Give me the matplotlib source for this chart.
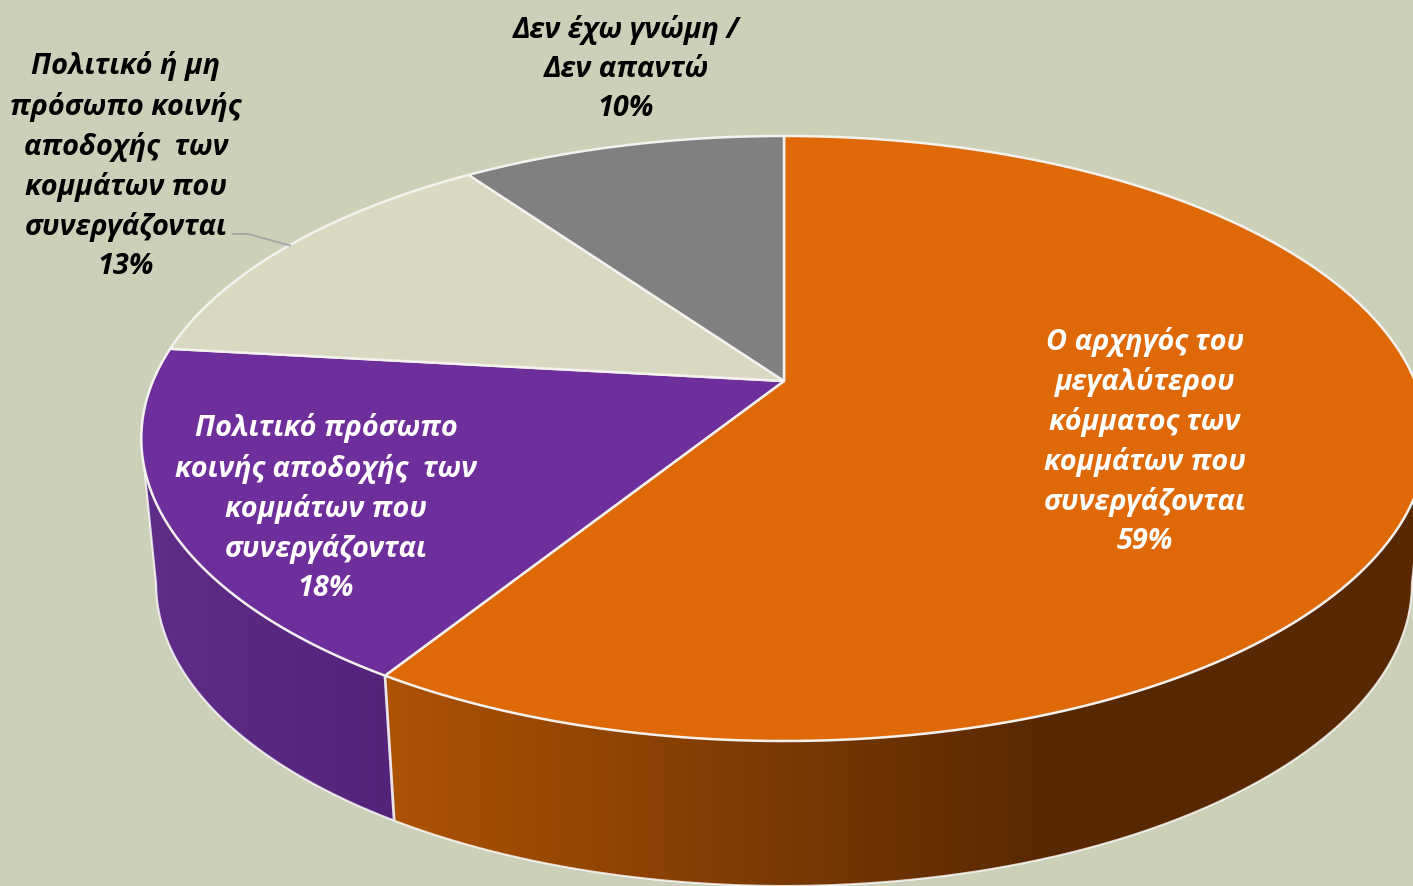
import numpy as np
import matplotlib
matplotlib.use("Agg")
import matplotlib.pyplot as plt
from matplotlib.colors import to_rgb
from matplotlib.patches import Polygon

# Data
labels = [
    "Ο αρχηγός του\nμεγαλύτερου\nκόμματος των\nκομμάτων που\nσυνεργάζονται\n59%",
    "Πολιτικό πρόσωπο\nκοινής αποδοχής  των\nκομμάτων που\nσυνεργάζονται\n18%",
    "Πολιτικό ή μη\nπρόσωπο κοινής\nαποδοχής  των\nκομμάτων που\nσυνεργάζονται\n13%",
    "Δεν έχω γνώμη /\nΔεν απαντώ\n10%",
]
values = [58.9, 17.9, 13.4, 9.8]
top_colors = ["#e06907", "#6e2e9b", "#d9d8c2", "#808080"]
label_colors = ["white", "white", "black", "black"]
label_pos = [(1145, 441.5), (326, 508), (126, 166), (626, 69)]

BG = "#ccd0b9"

# Perspective of the pie, in pixels
CX, CY = 784, 382
K = 0.19
A = 291.6
B = 631
DEPTH = 145
SHRINK = 0.977


def rim(theta):
    # theta is clockwise from the top of the pie
    u, w = np.sin(theta), -np.cos(theta)
    d = 1 - K * w
    return CX + B * u / d, CY + A * w / d


def lower(x, y):
    return CX + (x - CX) * SHRINK, y + DEPTH


def wall(t0, t1, left, right, x0, x1):
    # one part of the side wall, a horizontal gradient clipped to its outline
    ths = np.linspace(t0, t1, 300)
    tx, ty = rim(ths)
    bx, by = lower(tx, ty)
    xs = np.arange(0, 1414)
    t = np.clip((xs - x0) / (x1 - x0), 0, 1)[None, :, None]
    img = (1 - t) * np.array(to_rgb(left)) + t * np.array(to_rgb(right))
    im = ax.imshow(img, extent=(0, 1413, 887, 0), aspect="auto", interpolation="bilinear", zorder=1)
    outline = Polygon(np.c_[np.r_[tx, bx[::-1]], np.r_[ty, by[::-1]]], transform=ax.transData)
    im.set_clip_path(outline)


fig = plt.figure(figsize=(14.13, 8.87), dpi=100, facecolor=BG)
ax = fig.add_axes([0, 0, 1, 1])

edges = np.cumsum([0] + values) / sum(values) * 2 * np.pi
seam = edges[1]

# The wall runs between the two points where the rim is widest
grid = np.linspace(0, 2 * np.pi, 3601)
gx = rim(grid)[0]
th_right, th_left = grid[np.argmax(gx)], grid[np.argmin(gx)]

wall(th_right, seam, "#ae5304", "#582802", 385, 1050)
wall(seam, th_left, "#602d88", "#53237a", 145, 393)

ax.set_xlim(0, 1413)
ax.set_ylim(887, 0)
ax.axis("off")

# White line under the wall and down the seam
ths = np.linspace(th_right, th_left, 500)
tx, ty = rim(ths)
bx, by = lower(tx, ty)
ax.plot(np.r_[tx[0], bx, tx[-1]], np.r_[ty[0], by, ty[-1]], color="white", lw=1.5, alpha=0.8, zorder=2)
sx, sy = rim(seam)
ax.plot([sx, lower(sx, sy)[0]], [sy, lower(sx, sy)[1]], color="#e8e4ea", lw=2, zorder=2)

# Top face
for i, v in enumerate(values):
    ths = np.linspace(edges[i], edges[i + 1], 200)
    x, y = rim(ths)
    ax.fill(np.r_[CX, x], np.r_[CY, y], facecolor=top_colors[i],
            edgecolor="#f4f2ee", lw=1.8, joinstyle="round", zorder=3)

# Leader line of the 13% label
ax.plot([233, 248, 290], [235, 235, 246.5], color="#a5a8a5", lw=1.4, zorder=4)

for text, col, pos in zip(labels, label_colors, label_pos):
    ax.text(pos[0], pos[1], text, color=col, ha="center", va="center", multialignment="center",
            family="Open Sans", fontsize=20.8, fontweight="bold", fontstyle="italic",
            linespacing=1.44, zorder=5)

fig.savefig("out.png", dpi=100, facecolor=BG)
